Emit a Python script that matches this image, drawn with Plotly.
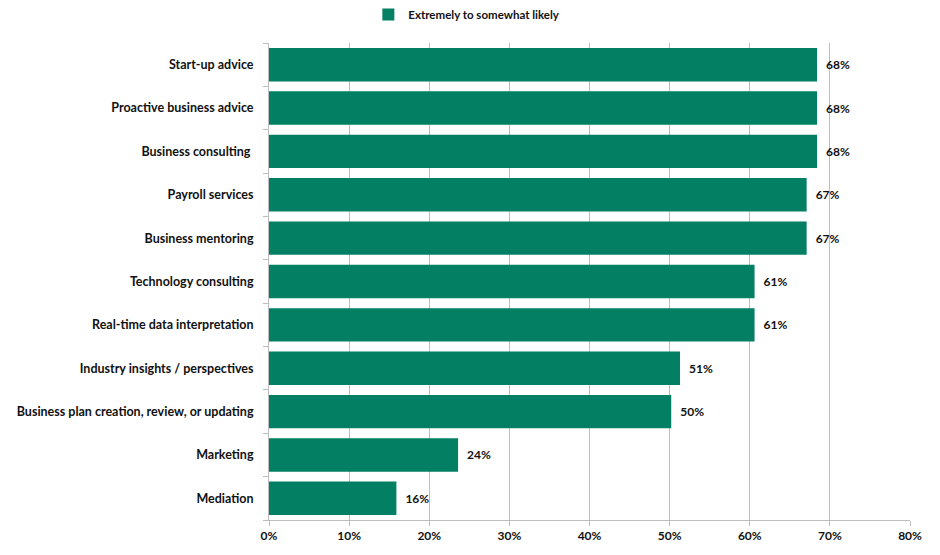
import plotly.graph_objects as go

categories = [
    "Start-up advice",
    "Proactive business advice",
    "Business consulting ",
    "Payroll services",
    "Business mentoring",
    "Technology consulting",
    "Real-time data interpretation",
    "Industry insights / perspectives",
    "Business plan creation, review, or updating",
    "Marketing",
    "Mediation",
]
values = [68.4, 68.4, 68.4, 67.1, 67.1, 60.6, 60.6, 51.3, 50.2, 23.6, 15.9]
series_name = "Extremely to somewhat likely"
x_ticks = [0, 10, 20, 30, 40, 50, 60, 70, 80]

n = len(categories)
ypos = list(range(n - 1, -1, -1))  # top to bottom
labels = [f"\u2002{round(v)}%" for v in values]

FONT = "Lato"
GREEN = "#037F63"

fig = go.Figure()
fig.add_trace(go.Bar(
    x=values,
    y=ypos,
    orientation="h",
    name=series_name,
    marker=dict(color=GREEN, line=dict(width=0)),
    width=0.77,
    text=labels,
    textposition="outside",
    textfont=dict(family=FONT, size=12, color="#111111", weight="bold"),
    cliponaxis=False,
    showlegend=True,
))

fig.update_layout(
    width=940,
    height=555,
    margin=dict(l=269, r=30, t=43, b=27),
    paper_bgcolor="white",
    plot_bgcolor="white",
    font=dict(family=FONT, size=12, color="#111111"),
    showlegend=True,
    legend=dict(
        orientation="h",
        x=0.155,
        xanchor="left",
        y=1.0,
        yref="container",
        yanchor="top",
        font=dict(family=FONT, size=11.5, color="#111111", weight="bold"),
        itemwidth=30,
        bgcolor="rgba(0,0,0,0)",
    ),
    xaxis=dict(
        range=[0, 80],
        tickvals=x_ticks,
        ticktext=[f"{t}%" for t in x_ticks],
        showgrid=True,
        gridcolor="#BDBDBD",
        gridwidth=1,
        showline=True,
        linecolor="#BDBDBD",
        ticks="outside",
        ticklen=5,
        tickcolor="#BDBDBD",
        zeroline=False,
        tickfont=dict(family=FONT, size=12, color="#111111", weight="bold"),
        fixedrange=True,
    ),
    yaxis=dict(
        range=[-0.5, n - 0.5],
        tickvals=ypos,
        ticktext=categories,
        showgrid=False,
        zeroline=False,
        showline=True,
        linecolor="#BDBDBD",
        ticks="",
        ticklabelstandoff=12,
        tickfont=dict(family=FONT, size=12.5, color="#111111", weight="bold"),
        minor=dict(
            tickvals=[i - 0.5 for i in range(n + 1)],
            ticks="outside",
            ticklen=5,
            tickcolor="#BDBDBD",
            showgrid=False,
        ),
        fixedrange=True,
    ),
    bargap=0.23,
)

fig.write_html("out.html")
